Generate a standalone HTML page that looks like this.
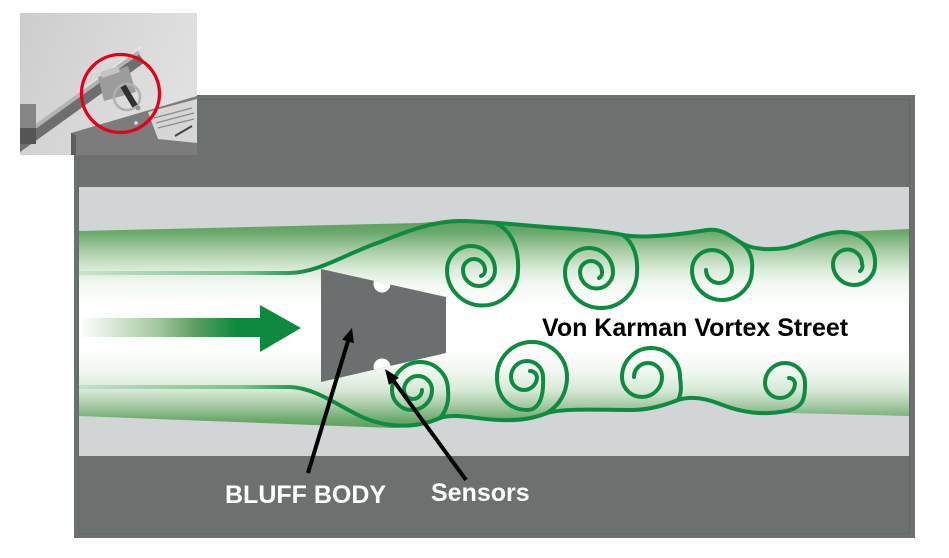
<!DOCTYPE html>
<html>
<head>
<meta charset="utf-8">
<style>
  html,body{margin:0;padding:0;background:#ffffff;}
  svg{display:block;}
  text{font-family:"Liberation Sans", Arial, sans-serif;font-weight:bold;}
</style>
</head>
<body>
<svg width="949" height="558" viewBox="0 0 949 558" xmlns="http://www.w3.org/2000/svg">
  <defs>
    <linearGradient id="flowFill" gradientUnits="userSpaceOnUse" x1="0" y1="220" x2="0" y2="430">
      <stop offset="0" stop-color="#5c9e5e"/>
      <stop offset="0.057" stop-color="#6aa86b"/>
      <stop offset="0.143" stop-color="#a6cba5"/>
      <stop offset="0.238" stop-color="#dcebda"/>
      <stop offset="0.31" stop-color="#f4f9f3"/>
      <stop offset="0.405" stop-color="#ffffff"/>
      <stop offset="0.62" stop-color="#ffffff"/>
      <stop offset="0.714" stop-color="#f2f8f1"/>
      <stop offset="0.81" stop-color="#d8e9d6"/>
      <stop offset="0.881" stop-color="#a7cba6"/>
      <stop offset="0.952" stop-color="#6ca96d"/>
      <stop offset="1" stop-color="#5c9e5e"/>
    </linearGradient>
    <linearGradient id="shaft" gradientUnits="userSpaceOnUse" x1="82" y1="0" x2="262" y2="0">
      <stop offset="0" stop-color="#fbfdfb"/>
      <stop offset="0.2" stop-color="#d3e5d1"/>
      <stop offset="0.43" stop-color="#a0c69e"/>
      <stop offset="0.63" stop-color="#5a9f5f"/>
      <stop offset="0.86" stop-color="#0e8a3e"/>
      <stop offset="1" stop-color="#0e8a3e"/>
    </linearGradient>
    <linearGradient id="streamFade" gradientUnits="userSpaceOnUse" x1="79" y1="0" x2="310" y2="0">
      <stop offset="0" stop-color="#0e8b41" stop-opacity="0.12"/>
      <stop offset="0.7" stop-color="#0e8b41" stop-opacity="0.45"/>
      <stop offset="1" stop-color="#0e8b41" stop-opacity="1"/>
    </linearGradient>
    <linearGradient id="photoBg" x1="0" y1="0" x2="1" y2="0.3">
      <stop offset="0" stop-color="#cdcdcd"/>
      <stop offset="0.6" stop-color="#d9d9d9"/>
      <stop offset="1" stop-color="#e0e0e0"/>
    </linearGradient>
    <clipPath id="bodyClip">
      <polygon points="321,269 446,297 446,353 321,382"/>
    </clipPath>
    <clipPath id="photoClip">
      <rect x="20" y="13" width="177" height="142"/>
    </clipPath>
  </defs>

  <!-- Gray housing -->
  <rect x="74" y="95" width="841" height="443" fill="#6c7170"/>
  <rect x="78.5" y="99.5" width="831" height="434" fill="none" stroke="#636867" stroke-width="1"/>
  <!-- Pipe interior -->
  <rect x="79" y="187" width="830" height="269" fill="#d2d5d6"/>

  <!-- Green flow band -->
  <path fill="url(#flowFill)" d="M79,231 L420,223 C435,221.5 448,221 460,221 C485,221 530,226 560,228 C590,230 610,232 623,235 C640,238 670,236 707,230 C722,228 730,236 740,242 C752,250 770,250 785,248 C800,246 815,234 840,232 L909,229 L909,416 L790,413 L770,413 C752,414 735,410 720,404 C705,398 690,396 678,400 C665,405 650,410 630,410 C600,410 565,408 547,413 C535,418 520,421 500,420 C475,419 455,413 440,418 C430,422 410,428 393,428 L79,416 Z"/>

  <!-- Upper boundary line + S4 -->
  <path fill="none" stroke="url(#streamFade)" stroke-width="4" stroke-linecap="round" stroke-linejoin="round"
    d="M79,273 L290,273 C320,272 345,254 380,242 C410,230 435,221 460,221 C485,221 530,226 560,228 C590,230 610,232 623,235 C640,238 670,236 707,230 C722,228 730,236 740,242 C752,250 770,250 785,248 C800,246 815,234 840,232 C862,231 876,246 875,264 A21 21 0 0 1 833 264 A14.5 14.5 0 0 1 862 264 A6 6 0 0 1 860 271"/>
  <!-- Upper spirals -->
  <g fill="none" stroke="#0e8b41" stroke-width="4" stroke-linecap="round">
    <path d="M497,224 C513,232 519,250 518,270 A35.5 35.5 0 0 1 447 270 A24 24 0 0 1 495 270 A16 16 0 0 1 463 270 A11 11 0 0 1 485 270 A6 6 0 0 1 481 276"/>
    <path d="M623,235 C634,243 638,258 637,272 A36 36 0 0 1 565 272 A24 24 0 0 1 613 272 A16.5 16.5 0 0 1 580 272 A11 11 0 0 1 602 272 A6 6 0 0 1 599 278"/>
    <path d="M740,242 C750,249 753,258 752,270 A30 30 0 0 1 692 270 A20 20 0 0 1 732 270 A13 13 0 0 1 706 270"/>
  </g>

  <!-- Lower boundary line + L4 -->
  <path fill="none" stroke="url(#streamFade)" stroke-width="4" stroke-linecap="round" stroke-linejoin="round"
    d="M79,387 L290,387 C315,388 335,404 360,416 C385,428 415,429 440,418 C455,413 475,419 500,420 C520,421 535,418 547,413 C565,408 600,410 630,410 C650,410 665,405 678,400 C690,396 705,398 720,404 C735,410 752,414 770,413 C785,412 797,410 802,402 C805,396 805,390 805,383 A20 20 0 0 0 765 383 A15 15 0 0 0 795 383 A6 6 0 0 0 789 378"/>
  <!-- Lower spirals -->
  <g fill="none" stroke="#0e8b41" stroke-width="4" stroke-linecap="round">
    <path d="M440,418 C447,410 449,400 448,390 A28 28 0 0 0 392 390 A20 20 0 0 0 432 390 A14 14 0 0 0 404 390 A9 9 0 0 0 422 390"/>
    <path d="M547,413 C560,405 567,392 567,377 A35 35 0 0 0 497 377 C497,398 510,410 527,410 C540,410 544,395 543,377 A16 16 0 0 0 511 377 A13 13 0 0 0 537 377 A7 7 0 0 0 530 371"/>
    <path d="M678,400 C682,393 681,385 680,377 A29 29 0 0 0 622 377 A20 20 0 0 0 662 377 A14 14 0 0 0 634 377"/>
  </g>

  <!-- Flow arrow -->
  <rect x="82" y="318" width="180" height="19" fill="url(#shaft)"/>
  <polygon points="260,305 301,328 260,352" fill="#0e8a3e"/>

  <!-- Bluff body -->
  <polygon points="321,269 446,297 446,353 321,382" fill="#6b6f6f"/>
  <g clip-path="url(#bodyClip)">
    <circle cx="382" cy="284" r="8.5" fill="#ffffff"/>
    <circle cx="382" cy="367" r="8.5" fill="#ffffff"/>
  </g>

  <!-- Black pointer arrows -->
  <line x1="308" y1="473" x2="347.9" y2="341.4" stroke="#000" stroke-width="4"/>
  <polygon points="352,328 353.9,343.2 342.1,339.6" fill="#000"/>
  <line x1="466" y1="480" x2="393.8" y2="381.1" stroke="#000" stroke-width="4"/>
  <polygon points="385,369 398.9,377.7 388.9,384.9" fill="#000"/>

  <!-- Labels -->
  <text x="542" y="336" font-size="25" fill="#000000">Von Karman Vortex Street</text>
  <text x="225" y="503" font-size="25" fill="#ffffff">BLUFF BODY</text>
  <text x="431" y="501" font-size="25" fill="#ffffff">Sensors</text>

  <!-- Photo inset -->
  <g clip-path="url(#photoClip)">
    <rect x="20" y="13" width="177" height="142" fill="url(#photoBg)"/>
    <!-- box -->
    <polygon points="71,133 197,96 197,155 71,155" fill="#7c7c7c"/>
    <polygon points="71,133 76,135 76,155 71,155" fill="#5e5e5e"/>
    <polygon points="148,112 197,99 197,143 158,139" fill="#d6d6d6"/>
    <line x1="154" y1="118" x2="192" y2="108" stroke="#8a8a8a" stroke-width="1.2"/>
    <line x1="156" y1="123" x2="194" y2="113" stroke="#8a8a8a" stroke-width="1.2"/>
    <line x1="158" y1="128" x2="194" y2="119" stroke="#8a8a8a" stroke-width="1.2"/>
    <line x1="175" y1="136" x2="192" y2="126" stroke="#444" stroke-width="2"/>
    <circle cx="136" cy="123" r="1.8" fill="#e0e0e0"/>
    <!-- tube outline -->
    <line x1="80" y1="92" x2="141" y2="47" stroke="#e8e8e8" stroke-width="2"/>
    <!-- rod -->
    <line x1="16" y1="147" x2="141" y2="57" stroke="#6e6e6e" stroke-width="13"/>
    <line x1="14" y1="142" x2="139" y2="52" stroke="#b4b4b4" stroke-width="4"/>
    <!-- left fitting -->
    <rect x="18" y="104" width="18" height="40" fill="#858585"/>
    <rect x="18" y="128" width="18" height="16" fill="#555"/>
    <!-- clamp block -->
    <polygon points="98,77 128,66 136,92 104,101" fill="#9c9c9c"/>
    <polygon points="100,72 118,66 120,72 102,78" fill="#c4c4c4"/>
    <!-- ring + sensor bar -->
    <circle cx="127" cy="97" r="13" fill="none" stroke="#b0b0b0" stroke-width="2.5"/>
    <line x1="123" y1="86" x2="135" y2="106" stroke="#303030" stroke-width="6"/>
    <circle cx="138" cy="108" r="2.5" fill="#999"/>
    <!-- red circle -->
    <circle cx="120.5" cy="93.5" r="39" fill="none" stroke="#e3001b" stroke-width="3.3"/>
  </g>
</svg>
</body>
</html>
